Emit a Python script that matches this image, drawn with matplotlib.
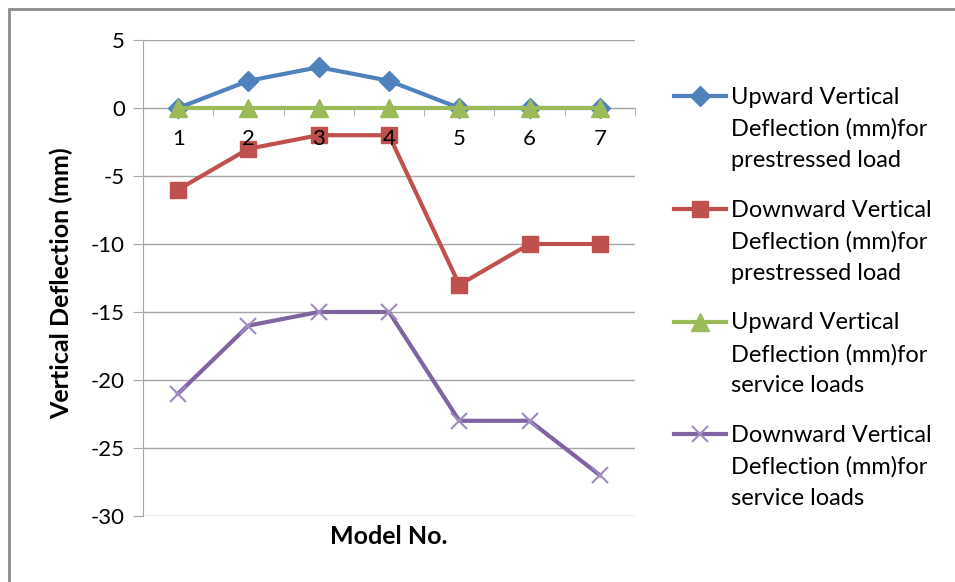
import matplotlib
matplotlib.use('Agg')
import matplotlib.pyplot as plt
from matplotlib.patches import Rectangle
from matplotlib.legend_handler import HandlerLine2D

# data
models = [1, 2, 3, 4, 5, 6, 7]
up_prestress = [0, 2, 3, 2, 0, 0, 0]
down_prestress = [-6, -3, -2, -2, -13, -10, -10]
up_service = [0, 0, 0, 0, 0, 0, 0]
down_service = [-21, -16, -15, -15, -23, -23, -27]
yticks = [-30, -25, -20, -15, -10, -5, 0, 5]

labels = ['Upward Vertical\nDeflection (mm)for\nprestressed load',
          'Downward Vertical\nDeflection (mm)for\nprestressed load',
          'Upward Vertical\nDeflection (mm)for\nservice loads',
          'Downward Vertical\nDeflection (mm)for\nservice loads']

plt.rcParams['font.family'] = ['Lato', 'DejaVu Sans']
plt.rcParams['axes.unicode_minus'] = False

LEG_FS = 17
LINE_SP = 1.6


# legend marker sits on the first text line, like Excel does
class FirstLineHandler(HandlerLine2D):
    def create_artists(self, legend, orig_handle, xdescent, ydescent,
                       width, height, fontsize, trans):
        arts = super().create_artists(legend, orig_handle, xdescent, ydescent,
                                      width, height, fontsize, trans)
        shift = 0.87 * LINE_SP * fontsize
        for a in arts:
            a.set_ydata([y + shift for y in a.get_ydata()])
        return arts


fig = plt.figure(figsize=(9.55, 5.82), dpi=100)
ax = fig.add_axes([143/955, 1-516/582, 492/955, 476/582])

# outer chart frame
fig.patches.append(Rectangle((9/955, -0.1), 1.2, 1.1-9/582, transform=fig.transFigure,
                             fill=False, edgecolor='#8c8c8c', lw=2, zorder=0))

# gridlines under the data, tick labels on top (Excel style)
for yv in yticks:
    ax.axhline(yv, color='#a6a6a6', lw=1, zorder=0.3)

ax.plot(models, up_prestress, color='#4F81BD', lw=3, marker='D', ms=10, label=labels[0])
ax.plot(models, down_prestress, color='#C0504D', lw=3, marker='s', ms=12, label=labels[1])
ax.plot(models, up_service, color='#9BBB59', lw=3, marker='^', ms=13, label=labels[2])
ax.plot(models, down_service, color='#8064A2', lw=3, marker='x', ms=12, mew=1.5,
        mec='#a08cc0', label=labels[3])
ax.set_axisbelow(False)

ax.set_xlim(0.5, 7.5)
ax.set_ylim(-30, 5)
ax.set_yticks(yticks)

for s in ['top', 'right']:
    ax.spines[s].set_visible(False)
ax.spines['left'].set_color('#a6a6a6')
ax.spines['bottom'].set_color('#a6a6a6')
ax.spines['bottom'].set_position(('data', 0))
ax.spines['bottom'].set_zorder(0.4)

ax.set_xticks(models)
ax.set_xticks([m + 0.5 for m in range(8)], minor=True)
ax.tick_params(axis='x', which='major', length=0, pad=15, labelsize=16)
ax.tick_params(axis='x', which='minor', length=6, direction='out', color='#a6a6a6')
ax.tick_params(axis='y', length=7, color='#a6a6a6', labelsize=16, pad=6)

ax.set_ylabel('Vertical Deflection (mm)', fontsize=18, fontweight='bold')
ax.yaxis.set_label_coords(-0.142, 0.49)
ax.set_xlabel('Model No.', fontsize=18, fontweight='bold')
ax.xaxis.set_label_coords(0.5, -0.019)

handles, labs = ax.get_legend_handles_labels()
leg = fig.legend(handles, labs, loc='upper left', bbox_to_anchor=(674/955, 1-87/582),
                 frameon=False, fontsize=LEG_FS, handlelength=2.2, handletextpad=0.2,
                 labelspacing=1.2, borderpad=0, borderaxespad=0,
                 handler_map={h: FirstLineHandler() for h in handles})
for t in leg.get_texts():
    t.set_linespacing(LINE_SP)

fig.savefig('out.png', dpi=100)
